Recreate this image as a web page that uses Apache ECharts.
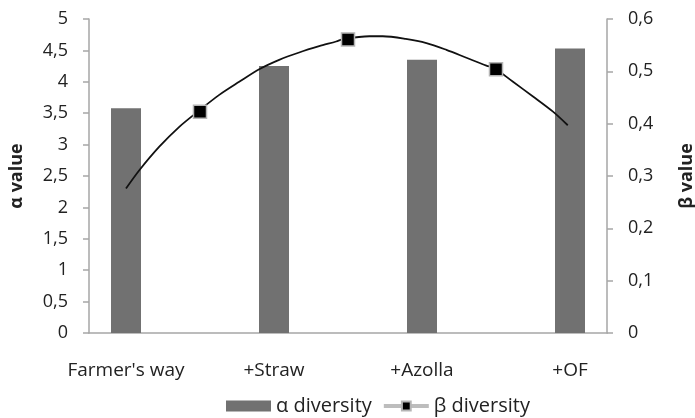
<!DOCTYPE html>
<html>
<head>
<meta charset="utf-8">
<script src="https://cdn.jsdelivr.net/npm/echarts@6/dist/echarts.min.js"></script>
<style>html,body{margin:0;padding:0;background:#fff}#c{width:695px;height:418px}</style>
</head>
<body>
<div id="c"></div>
<script>
// category slots: treatments at even slots, β points between them
var slots = ["Farmer's way", "", "+Straw", "", "+Azolla", "", "+OF"];
var alphaValues = [3.58, null, 4.25, null, 4.35, null, 4.53];
var betaValues = [null, 0.423, null, 0.561, null, 0.504, null];
// trend curve: position in slot units, β value
var trendX = [0.0, 0.18, 0.45, 0.72, 0.97, 1.26, 1.53, 1.80, 2.07, 2.34, 2.61, 2.84, 2.95, 3.29, 3.47, 3.78, 4.06, 4.33, 4.60, 4.87, 4.98, 5.23, 5.50, 5.77, 5.97];
var trendY = [0.276, 0.311, 0.356, 0.394, 0.423, 0.455, 0.480, 0.504, 0.522, 0.536, 0.548, 0.557, 0.562, 0.567, 0.567, 0.562, 0.554, 0.541, 0.526, 0.511, 0.506, 0.480, 0.452, 0.423, 0.397];

var FONT = 'Open Sans';
var axisGray = '#a6a6a6';
var chart = echarts.init(document.getElementById('c'), null, {renderer: 'canvas'});
function comma(v){ return String(Math.round(v*10)/10).replace('.', ','); }
var trendData = trendX.map(function(x, i){ return [x, trendY[i]]; });
chart.setOption({
  animation: false,
  textStyle: {fontFamily: FONT},
  grid: {left: 89, right: 88, top: 19, bottom: 85, containLabel: false, outerBoundsMode: 'none'},
  xAxis: [{
    type: 'category', data: slots, boundaryGap: true,
    axisLine: {lineStyle: {color: axisGray, width: 1.5}},
    axisTick: {interval: 0, length: 6, lineStyle: {color: axisGray, width: 1.5}},
    axisLabel: {interval: 0, margin: 28, color: '#222', fontSize: 19, fontFamily: FONT},
    splitLine: {show: false}
  }, {
    type: 'value', min: -0.5, max: 6.5, show: false, position: 'bottom',
    axisLine: {show: false, onZero: false}, axisTick: {show: false}, axisLabel: {show: false},
    splitLine: {show: false}, splitArea: {show: false}
  }],
  yAxis: [{
    type: 'value', min: 0, max: 5, interval: 0.5, position: 'left',
    name: 'α value', nameLocation: 'middle', nameRotate: 90, nameGap: 63,
    nameTextStyle: {fontSize: 18, fontWeight: 'bold', color: '#222', fontFamily: FONT},
    axisLine: {show: true, onZero: false, lineStyle: {color: axisGray, width: 1.5}},
    axisTick: {show: true, length: 6, lineStyle: {color: axisGray, width: 1.5}},
    axisLabel: {margin: 21, color: '#222', fontSize: 18, fontFamily: FONT, formatter: comma},
    splitLine: {show: false}
  }, {
    type: 'value', min: 0, max: 0.6, interval: 0.1, position: 'right',
    name: 'β value', nameLocation: 'middle', nameRotate: 90, nameGap: 71,
    nameTextStyle: {fontSize: 18, fontWeight: 'bold', color: '#222', fontFamily: FONT},
    axisLine: {show: true, onZero: false, lineStyle: {color: axisGray, width: 1.5}},
    axisTick: {show: true, length: 6, lineStyle: {color: axisGray, width: 1.5}},
    axisLabel: {margin: 21, color: '#222', fontSize: 18, fontFamily: FONT, formatter: comma},
    splitLine: {show: false}
  }],
  legend: {
    top: 391, left: 221, itemGap: 10, itemWidth: 45, itemHeight: 11,
    textStyle: {fontSize: 20, color: '#222', fontFamily: FONT},
    data: [
      {name: 'α diversity', icon: 'rect'},
      {name: 'β diversity', lineStyle: {color: '#bdbdbd', width: 4, opacity: 1}}
    ]
  },
  series: [{
    name: 'α diversity', type: 'bar', yAxisIndex: 0, data: alphaValues,
    barWidth: 30,
    itemStyle: {color: '#717171'}
  }, {
    name: 'β trend', type: 'line', xAxisIndex: 1, yAxisIndex: 1, data: trendData,
    smooth: 0.3, showSymbol: false, symbol: 'none',
    lineStyle: {color: '#111', width: 1.8}, silent: true, z: 3
  }, {
    name: 'β diversity', type: 'line', yAxisIndex: 1, data: betaValues,
    symbol: 'rect', symbolSize: 13, showSymbol: true, connectNulls: false,
    lineStyle: {opacity: 0, color: '#bdbdbd', width: 4},
    itemStyle: {color: '#000', borderColor: '#b5b5b5', borderWidth: 1.5},
    z: 4
  }]
});
</script>
</body>
</html>
